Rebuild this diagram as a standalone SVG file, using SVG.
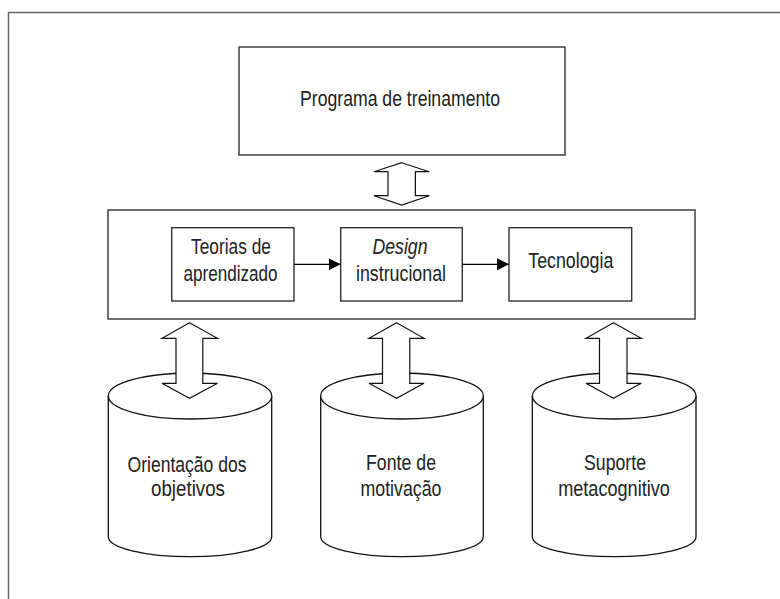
<svg xmlns="http://www.w3.org/2000/svg" width="780" height="599" viewBox="0 0 780 599">
<style>
.box{fill:#fff;stroke:#333;stroke-width:1.4}
.cyl{fill:#fff;stroke:#111;stroke-width:1.3}
.dbl{fill:#fff;stroke:#111;stroke-width:1.2;stroke-linejoin:miter}
.lbl{font-family:"Liberation Sans",Arial,sans-serif;font-size:22px;fill:#222;text-anchor:middle}
.conn{stroke:#000;stroke-width:1.3;fill:none}
</style>
<defs>
<marker id="tri" viewBox="0 0 12 12" refX="12" refY="6" markerWidth="12" markerHeight="12" markerUnits="userSpaceOnUse" orient="auto">
<path d="M0,0 L12,6 L0,12 Z" fill="#000"/>
</marker>
</defs>
<rect width="780" height="599" fill="#fff"/>
<path d="M8.5,599 V12.5 H780" fill="none" stroke="#666" stroke-width="1.5"/>

<g id="programa">
<rect class="box" x="239" y="47" width="326" height="108"/>
<text class="lbl" x="400" y="106" textLength="200" lengthAdjust="spacingAndGlyphs">Programa de treinamento</text>
</g>

<g id="bloco">
<rect class="box" x="108" y="210" width="587" height="109"/>
</g>

<g id="teorias">
<rect class="box" x="171.7" y="227.7" width="122.3" height="73.3"/>
<text class="lbl" x="231" y="254.3" textLength="80" lengthAdjust="spacingAndGlyphs">Teorias de</text>
<text class="lbl" x="230.5" y="281" textLength="94" lengthAdjust="spacingAndGlyphs">aprendizado</text>
</g>

<g id="design">
<rect class="box" x="340.7" y="227.7" width="121.6" height="73.3"/>
<text class="lbl" x="400" y="254.3" textLength="55" lengthAdjust="spacingAndGlyphs" font-style="italic">Design</text>
<text class="lbl" x="401" y="281" textLength="90" lengthAdjust="spacingAndGlyphs">instrucional</text>
</g>

<g id="tecnologia">
<rect class="box" x="509" y="227.7" width="122.7" height="73.3"/>
<text class="lbl" x="570.8" y="268.3" textLength="85" lengthAdjust="spacingAndGlyphs">Tecnologia</text>
</g>

<g id="orientacao">
<path class="cyl" d="M108.3,396 V536.7 A81.7,20 0 0 0 271.7,536.7 V396"/>
<ellipse class="cyl" cx="190" cy="396" rx="81.7" ry="23"/>
<text class="lbl" x="187" y="471.7" textLength="119" lengthAdjust="spacingAndGlyphs">Orientação dos</text>
<text class="lbl" x="188" y="495.7" textLength="74" lengthAdjust="spacingAndGlyphs">objetivos</text>
</g>

<g id="fonte">
<path class="cyl" d="M320.7,396 V536.7 A81.3,20 0 0 0 483.3,536.7 V396"/>
<ellipse class="cyl" cx="402" cy="396" rx="81.3" ry="23"/>
<text class="lbl" x="401" y="470" textLength="70" lengthAdjust="spacingAndGlyphs">Fonte de</text>
<text class="lbl" x="401" y="495.7" textLength="81" lengthAdjust="spacingAndGlyphs">motivação</text>
</g>

<g id="suporte">
<path class="cyl" d="M532.3,396 V536.7 A81.8,20 0 0 0 696,536.7 V396"/>
<ellipse class="cyl" cx="614.2" cy="396" rx="81.8" ry="23"/>
<text class="lbl" x="615" y="470" textLength="62" lengthAdjust="spacingAndGlyphs">Suporte</text>
<text class="lbl" x="614" y="495.7" textLength="111.7" lengthAdjust="spacingAndGlyphs">metacognitivo</text>
</g>

<g id="connectors">
<line class="conn" x1="294" y1="264.3" x2="340.7" y2="264.3" marker-end="url(#tri)"/>
<line class="conn" x1="462.3" y1="264.3" x2="509" y2="264.3" marker-end="url(#tri)"/>
<path class="dbl" d="M401.7,162.7 L429.3,171.7 H415.4 V195.7 H429.3 L401.7,205 L374,195.7 H388 V171.7 H374 Z"/>
<path class="dbl" d="M189.5,322.7 L217.5,338.3 H202.8 V383.3 H217.5 L189.5,398.3 L162,383.3 H176 V338.3 H162 Z"/>
<path class="dbl" d="M396.6,322.7 L424,338.3 H409.8 V383.3 H424 L396.6,398.3 L369,383.3 H382.5 V338.3 H369 Z"/>
<path class="dbl" d="M613.5,322.7 L641.3,338.3 H627 V383.3 H641.3 L613.5,398.3 L586,383.3 H599.5 V338.3 H586 Z"/>
</g>
</svg>
